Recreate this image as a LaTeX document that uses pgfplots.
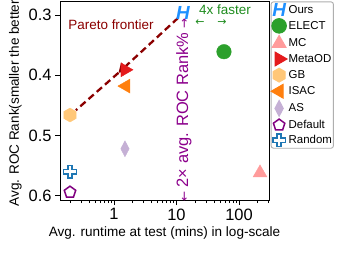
\documentclass[border=0pt]{standalone}
\usepackage{pgfplots}
\pgfplotsset{compat=1.18}
\usepackage{fontspec}
\setmainfont{Liberation Sans}
\newfontfamily\arrowfont{DejaVu Sans}
\usetikzlibrary{arrows.meta,calc}
\definecolor{cOurs}{RGB}{30,144,255}
\definecolor{cElect}{RGB}{44,160,44}
\definecolor{cMC}{RGB}{255,155,155}
\definecolor{cMeta}{RGB}{228,26,28}
\definecolor{cGB}{RGB}{255,199,120}
\definecolor{cISAC}{RGB}{255,127,14}
\definecolor{cAS}{RGB}{197,176,213}
\definecolor{cDef}{RGB}{128,0,128}
\definecolor{cRand}{RGB}{31,119,180}
\definecolor{cPareto}{RGB}{139,0,0}
\definecolor{cGreen}{RGB}{30,140,30}
\definecolor{cPurp}{RGB}{140,0,140}
\definecolor{cLeg}{RGB}{175,175,175}
\pgfdeclareplotmark{hexagon*}{%
  \pgfpathmoveto{\pgfqpointpolar{90}{\pgfplotmarksize}}%
  \pgfpathlineto{\pgfqpointpolar{150}{\pgfplotmarksize}}%
  \pgfpathlineto{\pgfqpointpolar{210}{\pgfplotmarksize}}%
  \pgfpathlineto{\pgfqpointpolar{270}{\pgfplotmarksize}}%
  \pgfpathlineto{\pgfqpointpolar{330}{\pgfplotmarksize}}%
  \pgfpathlineto{\pgfqpointpolar{30}{\pgfplotmarksize}}%
  \pgfpathclose
  \pgfusepathqfillstroke}
\pgfdeclareplotmark{fatplus}{%
  \pgfpathmoveto{\pgfqpoint{0.33\pgfplotmarksize}{\pgfplotmarksize}}%
  \pgfpathlineto{\pgfqpoint{-0.33\pgfplotmarksize}{\pgfplotmarksize}}%
  \pgfpathlineto{\pgfqpoint{-0.33\pgfplotmarksize}{0.33\pgfplotmarksize}}%
  \pgfpathlineto{\pgfqpoint{-\pgfplotmarksize}{0.33\pgfplotmarksize}}%
  \pgfpathlineto{\pgfqpoint{-\pgfplotmarksize}{-0.33\pgfplotmarksize}}%
  \pgfpathlineto{\pgfqpoint{-0.33\pgfplotmarksize}{-0.33\pgfplotmarksize}}%
  \pgfpathlineto{\pgfqpoint{-0.33\pgfplotmarksize}{-\pgfplotmarksize}}%
  \pgfpathlineto{\pgfqpoint{0.33\pgfplotmarksize}{-\pgfplotmarksize}}%
  \pgfpathlineto{\pgfqpoint{0.33\pgfplotmarksize}{-0.33\pgfplotmarksize}}%
  \pgfpathlineto{\pgfqpoint{\pgfplotmarksize}{-0.33\pgfplotmarksize}}%
  \pgfpathlineto{\pgfqpoint{\pgfplotmarksize}{0.33\pgfplotmarksize}}%
  \pgfpathlineto{\pgfqpoint{0.33\pgfplotmarksize}{0.33\pgfplotmarksize}}%
  \pgfpathclose
  \pgfusepathqfillstroke}
\pgfplotsset{mymarks/.style={only marks,
  legend image code/.code={\draw[mark repeat=2,mark phase=2,##1] plot coordinates {(0bp,0bp) (14bp,0bp) (22bp,0bp)};}}}
\begin{document}
\begin{tikzpicture}
\begin{axis}[
  scale only axis, width=209bp, height=198bp,
  xmode=log, xmin=0.137, xmax=302,
  y dir=reverse, ymin=0.2785, ymax=0.607,
  xtick={1,10,100}, xticklabels={1,10,100},
  minor xtick={0.2,0.3,0.4,0.5,0.6,0.7,0.8,0.9,2,3,4,5,6,7,8,9,20,30,40,50,60,70,80,90,200,300},
  ytick={0.3,0.4,0.5,0.6}, yticklabels={0.3,0.4,0.5,0.6},
  minor ytick={},
  tick align=outside, tick pos=left,
  major tick length=5bp, minor tick length=3bp,
  axis line style={line width=1pt}, every tick/.style={black, line width=0.8pt},
  /pgf/number format/assume math mode=true,
  tick label style={font=\fontsize{16.5}{18}\selectfont},
  label style={font=\fontsize{13.6}{15}\selectfont},
  xlabel={Avg. runtime at test (mins) in log-scale},
  ylabel={Avg. ROC Rank(smaller the better)},
  legend style={at={(1.008,1.003)}, anchor=north west, draw=cLeg, line width=0.9pt,
    rounded corners=2.5pt, font=\fontsize{11.5}{13}\selectfont, row sep=2.2bp,
    inner xsep=0pt, inner ysep=1.5pt,
    nodes={inner xsep=1.5bp, inner ysep=0pt, text height=10bp, text depth=3bp}},
  legend cell align=left,
  mark size=7bp,
]
\addplot[mymarks, color=cOurs, mark=text,
  text mark={\fontsize{19}{19}\selectfont\bfseries\itshape\color{cOurs}H}]
  coordinates {(12.7,0.297)};
\addlegendentry{Ours}
\addplot[mymarks, mark=*, mark size=7.3bp, draw=cElect, fill=cElect] coordinates {(57.5,0.361)};
\addlegendentry{ELECT}
\addplot[mymarks, mark=triangle*, mark size=8bp, draw=cMC, fill=cMC] coordinates {(217,0.562)};
\addlegendentry{MC}
\addplot[mymarks, mark=triangle*, mark size=8bp, draw=cMeta, fill=cMeta, mark options={rotate=-90}] coordinates {(1.5,0.391)};
\addlegendentry{MetaOD}
\addplot[mymarks, mark=hexagon*, mark size=7bp, draw=cGB, fill=cGB] coordinates {(0.198,0.466)};
\addlegendentry{GB}
\addplot[mymarks, mark=triangle*, mark size=8bp, draw=cISAC, fill=cISAC, mark options={rotate=90}] coordinates {(1.55,0.418)};
\addlegendentry{ISAC}
\addplot[mymarks, mark=diamond*, mark size=8bp, draw=cAS, fill=cAS, mark options={xscale=0.7}] coordinates {(1.5,0.522)};
\addlegendentry{AS}
\addplot[mymarks, mark=pentagon, mark size=6bp, draw=cDef, fill=white, mark options={line width=1.5pt, fill=white}] coordinates {(0.198,0.594)};
\addlegendentry{Default}
\addplot[mymarks, mark=fatplus, mark size=6.3bp, draw=cRand, fill=white, mark options={line width=1.5pt, fill=white}] coordinates {(0.198,0.560)};
\addlegendentry{Random}
\addplot[forget plot, cPareto, line width=2.3pt, dash pattern=on 7pt off 4pt, -{Triangle[length=9pt,width=11pt]}]
  coordinates {(10.6,0.305) (1.18,0.396)};
\addplot[forget plot, cPareto, line width=2.3pt, dash pattern=on 7pt off 4pt]
  coordinates {(1.18,0.396) (0.246,0.458)};
\node[anchor=west, text=cPareto, font=\fontsize{13.5}{14}\selectfont] at (axis cs:0.164,0.3166) {Pareto frontier};
\node[anchor=west, text=cGreen, font=\fontsize{13.5}{14}\selectfont, inner sep=0pt] at (axis cs:22.9,0.2917) {4x faster};
\node[text=cGreen, font=\fontsize{11}{11}\selectfont\arrowfont, inner sep=0pt] at (axis cs:35.6,0.3125) {←\hspace{13bp}→};
\node[rotate=90, text=cPurp, font=\fontsize{16.5}{17}\selectfont, inner sep=0pt] at (axis cs:13.1,0.4575) {{\fontsize{12}{12}\selectfont\arrowfont ←} 2× avg. ROC Rank\% {\fontsize{12}{12}\selectfont\arrowfont →}};
\end{axis}
\pgfresetboundingbox
\path[use as bounding box] ($(current axis.south west)+(-60bp,-54bp)$) rectangle ($(current axis.north east)+(91bp,2bp)$);
\end{tikzpicture}
\end{document}
